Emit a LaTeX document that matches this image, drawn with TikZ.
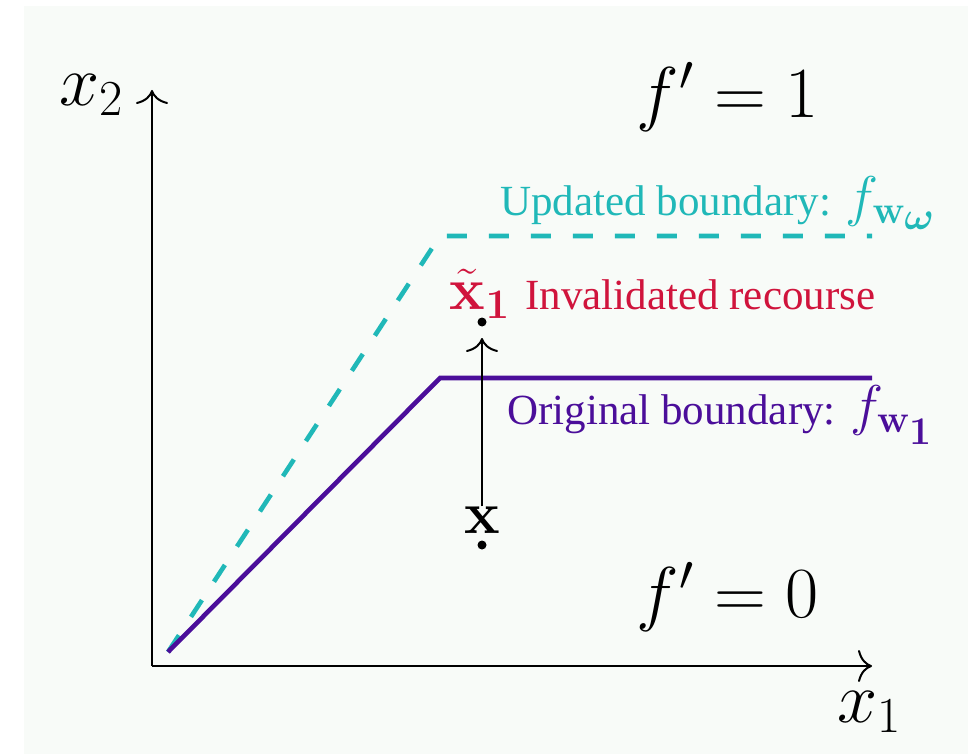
\RequirePackage{fix-cm}
\documentclass[tikz,border=0pt]{standalone}
\usepackage{amsmath,bm}
\usepackage[no-math]{fontspec}
\setmainfont{Liberation Serif}
\usetikzlibrary{arrows.meta}
\definecolor{bgc}{RGB}{248,251,248}
\definecolor{cyanb}{RGB}{32,184,184}
\definecolor{purpb}{RGB}{75,14,154}
\definecolor{redr}{RGB}{208,20,60}
\newcommand\lblmath{\fontsize{28}{30}\selectfont}
\begin{document}
\begin{tikzpicture}[x=0.5pt,y=-0.5pt,
  tip/.style={-{Computer Modern Rightarrow[length=7pt,width=16pt]}},
  axis/.style={line width=1pt,tip},
  origb/.style={line width=2.3pt,purpb},
  updb/.style={line width=2.3pt,cyanb,dash pattern=on 10pt off 11pt},
  big/.style={font=\fontsize{36}{40}\selectfont,inner sep=0pt},
  lbl/.style={font=\fontsize{21.5}{24}\selectfont,inner sep=0pt},
  ptlbl/.style={font=\fontsize{30}{34}\selectfont,inner sep=0pt},
  dotn/.style={circle,fill=black,inner sep=0pt,minimum size=4.5pt}]
\useasboundingbox (0,0) rectangle (968,754);
\fill[white] (0,0) rectangle (968,754);
\fill[bgc] (24,6) rectangle (968,754);
% axes
\coordinate (O) at (152,666);
\coordinate (xe) at (872,666);
\coordinate (ye) at (152,90);
\draw[axis] (O) -- (xe);
\draw[axis] (O) -- (ye);
\node[big] (xtwo) at (92,95) {$x_2$};
\node[big] (xone) at (870,712) {$x_1$};
% boundaries
\coordinate (b0) at (168,652);
\coordinate (b1) at (440,378);
\coordinate (b2) at (872,378);
\coordinate (u1) at (440,236);
\coordinate (u2) at (872,236);
\draw[updb] (b0) -- (u1) -- (u2);
\draw[origb] (b0) -- (b1) -- (b2);
% regions
\node[big] (fone) at (728,97) {$f'=1$};
\node[big] (fzero) at (728,597) {$f'=0$};
% labels
\node[lbl,text=cyanb,anchor=west] (updl) at (500,203) {Updated boundary: {\lblmath$f_{\mathbf{w}_{\scriptstyle\bm{\omega}}}$}};
\node[lbl,text=purpb,anchor=west] (origl) at (507,415) {Original boundary: {\lblmath$f_{\mathbf{w}_{\scriptstyle\mathbf{1}}}$}};
\node[lbl,text=redr,anchor=west] (invl) at (525,295) {Invalidated recourse};
% points
\node[dotn] (px) at (482,545) {};
\node[dotn] (pxt) at (482,322) {};
\node[ptlbl] (xlab) at (482,520) {$\mathbf{x}$};
\node[ptlbl,text=redr] (xtlab) at (480,294) {$\tilde{\mathbf{x}}_{\mathbf{1}}$};
\coordinate (arrtip) at (482,338);
\draw[line width=1pt,tip] (xlab.north) -- (arrtip);
\end{tikzpicture}
\end{document}
